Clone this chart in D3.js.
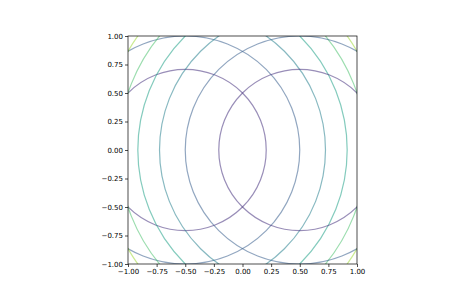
<!DOCTYPE html>
<html>
<head>
<meta charset="utf-8">
<script src="https://d3js.org/d3.v7.min.js"></script>
<style>
  body { margin: 0; background: #fff; }
  text { font-family: "DejaVu Sans", sans-serif; }
</style>
</head>
<body>
<div id="chart"></div>
<script>
// two paraboloids f = (x - cx)^2 + y^2, contoured at the same levels
var centersX = [-0.5, 0.5];
var levels = [0.5, 1.0, 1.5, 2.0, 2.5, 3.0];
var colorRange = [0, 3.5];   // level range the colormap is normalised over
var tickValues = [-1.00, -0.75, -0.50, -0.25, 0.00, 0.25, 0.50, 0.75, 1.00];

var margin = {top: 36, right: 117, bottom: 32, left: 128},
    width = 474 - margin.left - margin.right,
    height = 296 - margin.top - margin.bottom;

var svg = d3.select("#chart")
    .append("svg")
    .attr("width", 474)
    .attr("height", 296)
    .append("g")
    .attr("transform", "translate(" + margin.left + "," + margin.top + ")");

var x = d3.scaleLinear().domain([-1, 1]).range([0, width]);
var y = d3.scaleLinear().domain([-1, 1]).range([height, 0]);

var color = d3.scaleSequential(d3.interpolateViridis).domain(colorRange);

svg.append("clipPath")
    .attr("id", "clip")
    .append("rect")
    .attr("width", width)
    .attr("height", height);

// each contour level of a paraboloid is a circle of radius sqrt(level)
var rings = [];
centersX.forEach(function(cx) {
    levels.forEach(function(l) {
        rings.push({cx: cx, level: l});
    });
});

svg.append("g")
    .attr("clip-path", "url(#clip)")
    .selectAll("ellipse")
    .data(rings)
    .enter()
    .append("ellipse")
    .attr("cx", function(d) { return x(d.cx); })
    .attr("cy", y(0))
    .attr("rx", function(d) { return x(Math.sqrt(d.level)) - x(0); })
    .attr("ry", function(d) { return y(0) - y(Math.sqrt(d.level)); })
    .style("fill", "none")
    .style("stroke", function(d) { return color(d.level); })
    .style("stroke-opacity", 0.55)
    .style("stroke-width", 1.2);

var fmt = d3.format(".2f");

var xAxis = svg.append("g")
    .attr("transform", "translate(0," + height + ")")
    .call(d3.axisBottom(x).tickValues(tickValues).tickFormat(fmt).tickSize(3).tickPadding(2));

var yAxis = svg.append("g")
    .call(d3.axisLeft(y).tickValues(tickValues).tickFormat(fmt).tickSize(3).tickPadding(2));

[xAxis, yAxis].forEach(function(a) {
    a.select(".domain").remove();
    a.selectAll("text")
        .style("font-family", "DejaVu Sans")
        .style("font-size", "7px")
        .attr("fill", "#000");
    a.selectAll("line").attr("stroke", "#000").attr("stroke-width", 0.7);
});

svg.append("rect")
    .attr("width", width)
    .attr("height", height)
    .style("fill", "none")
    .style("stroke", "#000")
    .style("stroke-width", 0.7);
</script>
</body>
</html>
